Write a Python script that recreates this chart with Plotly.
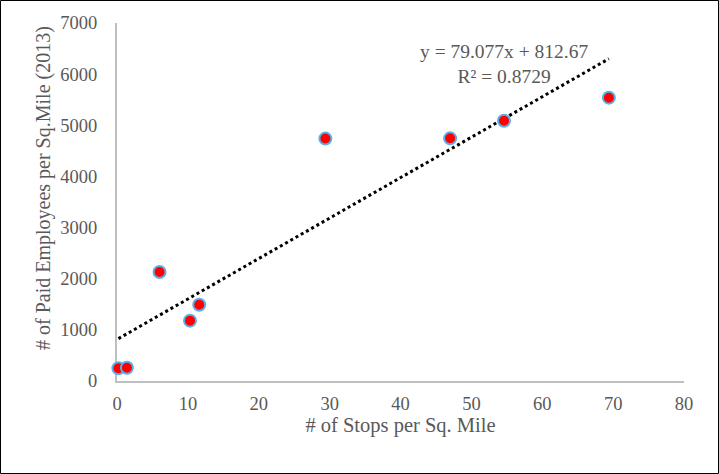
import plotly.graph_objects as go

stops = [0.2, 1.4, 6.0, 10.3, 11.6, 29.4, 47.0, 54.6, 69.4]
employees = [250, 260, 2130, 1180, 1490, 4740, 4745, 5090, 5540]
slope = 79.077
intercept = 812.67
x_ticks = [0, 10, 20, 30, 40, 50, 60, 70, 80]
y_ticks = [0, 1000, 2000, 3000, 4000, 5000, 6000, 7000]

font_family = "Liberation Serif, Times New Roman, serif"
grey = "#595959"

fig = go.Figure()

tx = [min(stops), max(stops)]
ty = [slope * v + intercept for v in tx]
fig.add_trace(go.Scatter(x=tx, y=ty, mode="lines",
                         line=dict(color="black", width=3, dash="dot"),
                         hoverinfo="skip", showlegend=False, cliponaxis=False))
fig.add_trace(go.Scatter(x=stops, y=employees, mode="markers",
                         marker=dict(color="#ff0000", size=12,
                                     line=dict(color="#5ab0e8", width=2)),
                         showlegend=False, cliponaxis=False))

fig.add_annotation(x=54.6, y=6190, xref="x", yref="y",
                   text=f"y = {slope}x + {intercept}<br>R² = 0.8729",
                   showarrow=False, align="center",
                   font=dict(family=font_family, size=19.5, color=grey))

W, H = 719, 474
ml, mr, mt, mb = 117, 35, 23, 93
pw, ph = W - ml - mr, H - mt - mb

fig.add_annotation(x=(43 - ml) / pw, y=(381 - 188) / ph, xref="paper", yref="paper",
                   text="# of Paid Employees per Sq.Mile (2013)", textangle=-90,
                   showarrow=False, xanchor="center", yanchor="middle",
                   font=dict(family=font_family, size=20, color=grey))

fig.add_shape(type="rect", xref="paper", yref="paper",
              x0=(-ml + 0.5) / pw, x1=1 + (mr - 0.5) / pw,
              y0=(-mb + 0.5) / ph, y1=1 + (mt - 0.5) / ph,
              line=dict(color="black", width=1), layer="below")

fig.update_layout(
    width=W, height=H,
    margin=dict(l=ml, r=mr, t=mt, b=mb),
    plot_bgcolor="white", paper_bgcolor="white",
    font=dict(family=font_family, color=grey, size=19),
    xaxis=dict(range=[0, 80], tickvals=x_ticks, showgrid=False, zeroline=False,
               showline=True, linecolor="#bfbfbf", linewidth=2, layer="below traces",
               ticks="outside", ticklen=5, tickcolor="rgba(0,0,0,0)",
               title=dict(text="# of Stops per Sq. Mile", font=dict(size=20.5), standoff=4),
               tickfont=dict(size=18.5)),
    yaxis=dict(range=[0, 7000], tickvals=y_ticks, showgrid=False, zeroline=False,
               showline=True, linecolor="#bfbfbf", linewidth=2, layer="below traces",
               ticks="outside", ticklen=14, tickcolor="rgba(0,0,0,0)",
               tickfont=dict(size=18.5)),
)

fig.write_html("out.html")
